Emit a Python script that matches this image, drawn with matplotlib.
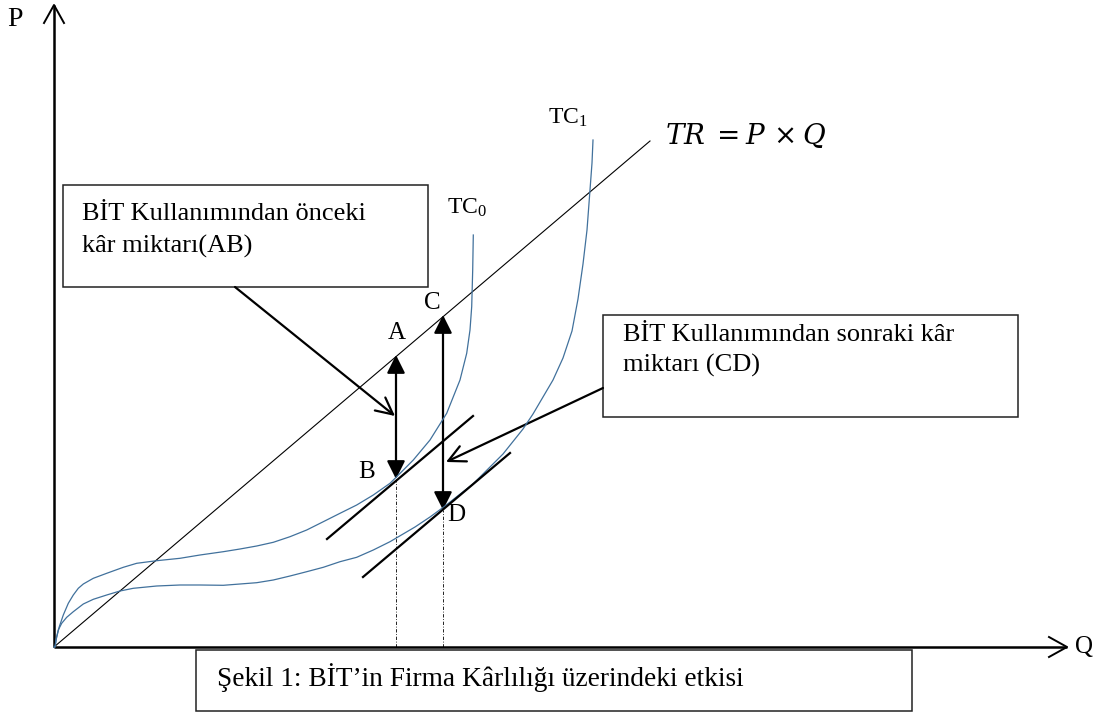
import numpy as np
import matplotlib.pyplot as plt
from matplotlib.patches import FancyArrowPatch, Rectangle

plt.rcParams['font.family'] = ['Liberation Serif', 'DejaVu Serif']
plt.rcParams['mathtext.fontset'] = 'custom'
plt.rcParams['mathtext.rm'] = 'Liberation Serif'
plt.rcParams['mathtext.it'] = 'Liberation Serif:italic'

# ---- veriler (Q, P) ----
# toplam gelir dogrusu
tr_q = [0, 596]
tr_p = [0, 506]

# TC0: BIT oncesi toplam maliyet
tc0_q = [0, 1, 2.7, 5.3, 9.3, 14.3, 19.3, 24.3, 29.3, 39.3, 52.7, 69.3, 82.7,
         102.7, 126, 146, 169.3, 186, 202.7, 219.3, 236, 252.7, 269.3, 286,
         302.7, 319.3, 336, 342.7, 359.3, 376, 392.7, 406, 412.7, 416, 417.7,
         418.7, 419.3]
tc0_p = [0, 0, 10.3, 20.3, 32, 43.7, 52, 58.7, 63, 68.7, 73.7, 79.7, 83.7,
         86.3, 88.7, 92, 95.3, 98, 101, 104.7, 110.3, 117, 125.3, 133.7,
         142, 152, 163.7, 170.3, 187, 207, 233.7, 267, 293.7, 317, 340.3,
         377, 412]

# TC1: BIT sonrasi toplam maliyet
tc1_q = [0, 1, 2, 4.3, 7.7, 12.7, 19.3, 29.3, 39.3, 52.7, 66, 79.3, 102.7,
         126, 146, 169.3, 202.7, 219.3, 236, 252.7, 269.3, 286, 302.7, 319.3,
         336, 361, 376, 389, 419, 449, 469, 479, 499, 509, 518, 524, 529,
         533, 536, 538, 539]
tc1_p = [0, 0, 7, 17, 23.7, 29.7, 35.3, 43, 47.7, 52, 56, 58.7, 61,
         62, 62, 61.7, 64.3, 67, 71, 75.3, 79.7, 85.3, 89.7, 97,
         105.3, 120, 130, 139.5, 163, 193, 218, 233, 267, 289, 316, 348, 383,
         417, 457, 484, 507]

# teget dogrular (TR'ye paralel)
tan0_q = [273, 419]
tan0_p = [108, 231]
tan1_q = [309, 456]
tan1_p = [70, 194]

# kar noktalari
pts = {'A': (342, 292), 'B': (342, 168), 'C': (389, 332), 'D': (389, 137)}

curve_col = '#41719c'

fig = plt.figure(figsize=(10.99, 7.13), dpi=100)
ax = fig.add_axes([0, 0, 1, 1])
ax.set_xlim(-54, 1045)
ax.set_ylim(-66, 647)
ax.axis('off')

# eksenler
ax.plot([0, 0], [0, 642], color='k', lw=1.8, solid_capstyle='butt')
ax.plot([0, 1013], [0, 0], color='k', lw=1.8, solid_capstyle='butt')
ax.plot([-10, 0, 10], [624, 642, 624], color='k', lw=1.4)
ax.plot([995, 1013, 995], [10, 0, -10], color='k', lw=1.4)
ax.text(-39, 627, 'P', fontsize=20, ha='center', va='center')
ax.text(1030, 0, 'Q', fontsize=18, ha='center', va='center')

# egriler
ax.plot(tr_q, tr_p, color='k', lw=0.8)
ax.plot(tc0_q, tc0_p, color=curve_col, lw=0.9)
ax.plot(tc1_q, tc1_p, color=curve_col, lw=0.9)
ax.plot(tan0_q, tan0_p, color='k', lw=1.6)
ax.plot(tan1_q, tan1_p, color='k', lw=1.6)

# dikey kesikli cizgiler
for key in ['B', 'D']:
    q, p = pts[key]
    ax.plot([q, q], [0, p], color='k', lw=0.6, linestyle=(0, (4, 2, 1, 2)))

# kar oklari
for a, b in [('A', 'B'), ('C', 'D')]:
    ax.add_patch(FancyArrowPatch(pts[a], pts[b],
                                 arrowstyle='<|-|>,head_length=11,head_width=5.5',
                                 mutation_scale=1, lw=1.6, color='k',
                                 shrinkA=0, shrinkB=0))

ax.text(343, 314, 'A', fontsize=18, ha='center', va='center')
ax.text(313, 175, 'B', fontsize=18, ha='center', va='center')
ax.text(378, 344, 'C', fontsize=18, ha='center', va='center')
ax.text(402, 132, 'D', fontsize=18, ha='center', va='center')

ax.text(393, 439, r'$\mathrm{TC}_0$', fontsize=17, ha='left', va='center')
ax.text(494, 529, r'$\mathrm{TC}_1$', fontsize=17, ha='left', va='center')
ax.text(611, 512, r'$TR\;= P\,\times Q$', fontsize=20, ha='left', va='center',
        math_fontfamily='dejavuserif')

# aciklama kutulari
ax.add_patch(Rectangle((9, 360), 365, 102, fill=False, ec='#222222', lw=1.1))
ax.text(28, 427, 'BİT Kullanımından önceki', fontsize=19, va='baseline')
ax.text(28, 394, 'kâr miktarı(AB)', fontsize=19, va='baseline')
ax.add_patch(FancyArrowPatch((181, 360), (341, 231),
                             arrowstyle='->,head_length=12,head_width=6',
                             mutation_scale=1, lw=1.6, color='k',
                             shrinkA=0, shrinkB=0))

ax.add_patch(Rectangle((549, 230), 415, 102, fill=False, ec='#222222', lw=1.1))
ax.text(569, 306, 'BİT Kullanımından sonraki kâr', fontsize=19, va='baseline')
ax.text(569, 275, 'miktarı (CD)', fontsize=19, va='baseline')
ax.add_patch(FancyArrowPatch((549, 259), (392, 185),
                             arrowstyle='->,head_length=12,head_width=6',
                             mutation_scale=1, lw=1.6, color='k',
                             shrinkA=0, shrinkB=0))

ax.add_patch(Rectangle((142, -64), 716, 61, fill=False, ec='#222222', lw=1.1))
ax.text(163, -39, 'Şekil 1: BİT’in Firma Kârlılığı üzerindeki etkisi',
        fontsize=19.7, va='baseline')

fig.savefig('out.png', dpi=100)
